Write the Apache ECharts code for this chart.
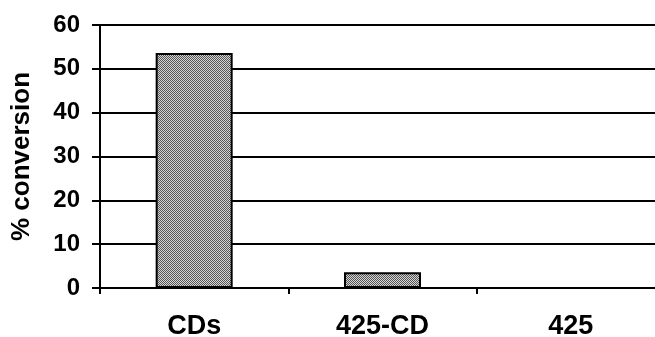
<!DOCTYPE html>
<html>
<head>
<meta charset="utf-8">
<script src="https://cdn.jsdelivr.net/npm/echarts@6/dist/echarts.min.js"></script>
<style>
html,body{margin:0;padding:0;background:#fff;}
#chart{width:655px;height:337px;}
</style>
</head>
<body>
<div id="chart"></div>
<script>
const categories = ['CDs', '425-CD', '425'];
const conversion = [53.6, 3.6, 0];
const yTicks = [0, 10, 20, 30, 40, 50, 60];

// stipple (halftone) fill pattern
const pat = document.createElement('canvas');
pat.width = 2; pat.height = 2;
const pc = pat.getContext('2d');
pc.fillStyle = '#d6d6d6';
pc.fillRect(0, 0, 2, 2);
pc.fillStyle = '#555555';
pc.fillRect(0, 0, 1, 1);
pc.fillRect(1, 1, 1, 1);

const chart = echarts.init(document.getElementById('chart'), null, {renderer: 'canvas'});
chart.setOption({
  animation: false,
  backgroundColor: '#ffffff',
  grid: {left: 100, top: 25, bottom: 49, right: -10, containLabel: false, outerBoundsMode: 'none'},
  xAxis: {
    type: 'category',
    data: categories,
    axisLine: {show: true, lineStyle: {color: '#000', width: 2}},
    axisTick: {show: true, length: 6, lineStyle: {color: '#000', width: 2}},
    axisLabel: {color: '#000', fontFamily: 'Liberation Sans', fontWeight: 'bold', fontSize: 27, margin: 25}
  },
  yAxis: {
    type: 'value',
    min: yTicks[0],
    max: yTicks[yTicks.length - 1],
    interval: 10,
    name: '% conversion',
    nameLocation: 'middle',
    nameRotate: 90,
    nameGap: 65,
    nameTextStyle: {color: '#000', fontFamily: 'Liberation Sans', fontWeight: 'bold', fontSize: 26},
    axisLine: {show: true, lineStyle: {color: '#000', width: 2}},
    axisTick: {show: true, length: 8, lineStyle: {color: '#000', width: 2}},
    axisLabel: {color: '#000', fontFamily: 'Liberation Sans', fontWeight: 'bold', fontSize: 24, margin: 20},
    splitLine: {show: true, lineStyle: {color: '#000', width: 2}}
  },
  series: [{
    type: 'bar',
    data: conversion,
    barWidth: 77,
    itemStyle: {
      color: {image: pat, repeat: 'repeat'},
      borderColor: '#000',
      borderWidth: 2
    }
  }]
});
</script>
</body>
</html>
